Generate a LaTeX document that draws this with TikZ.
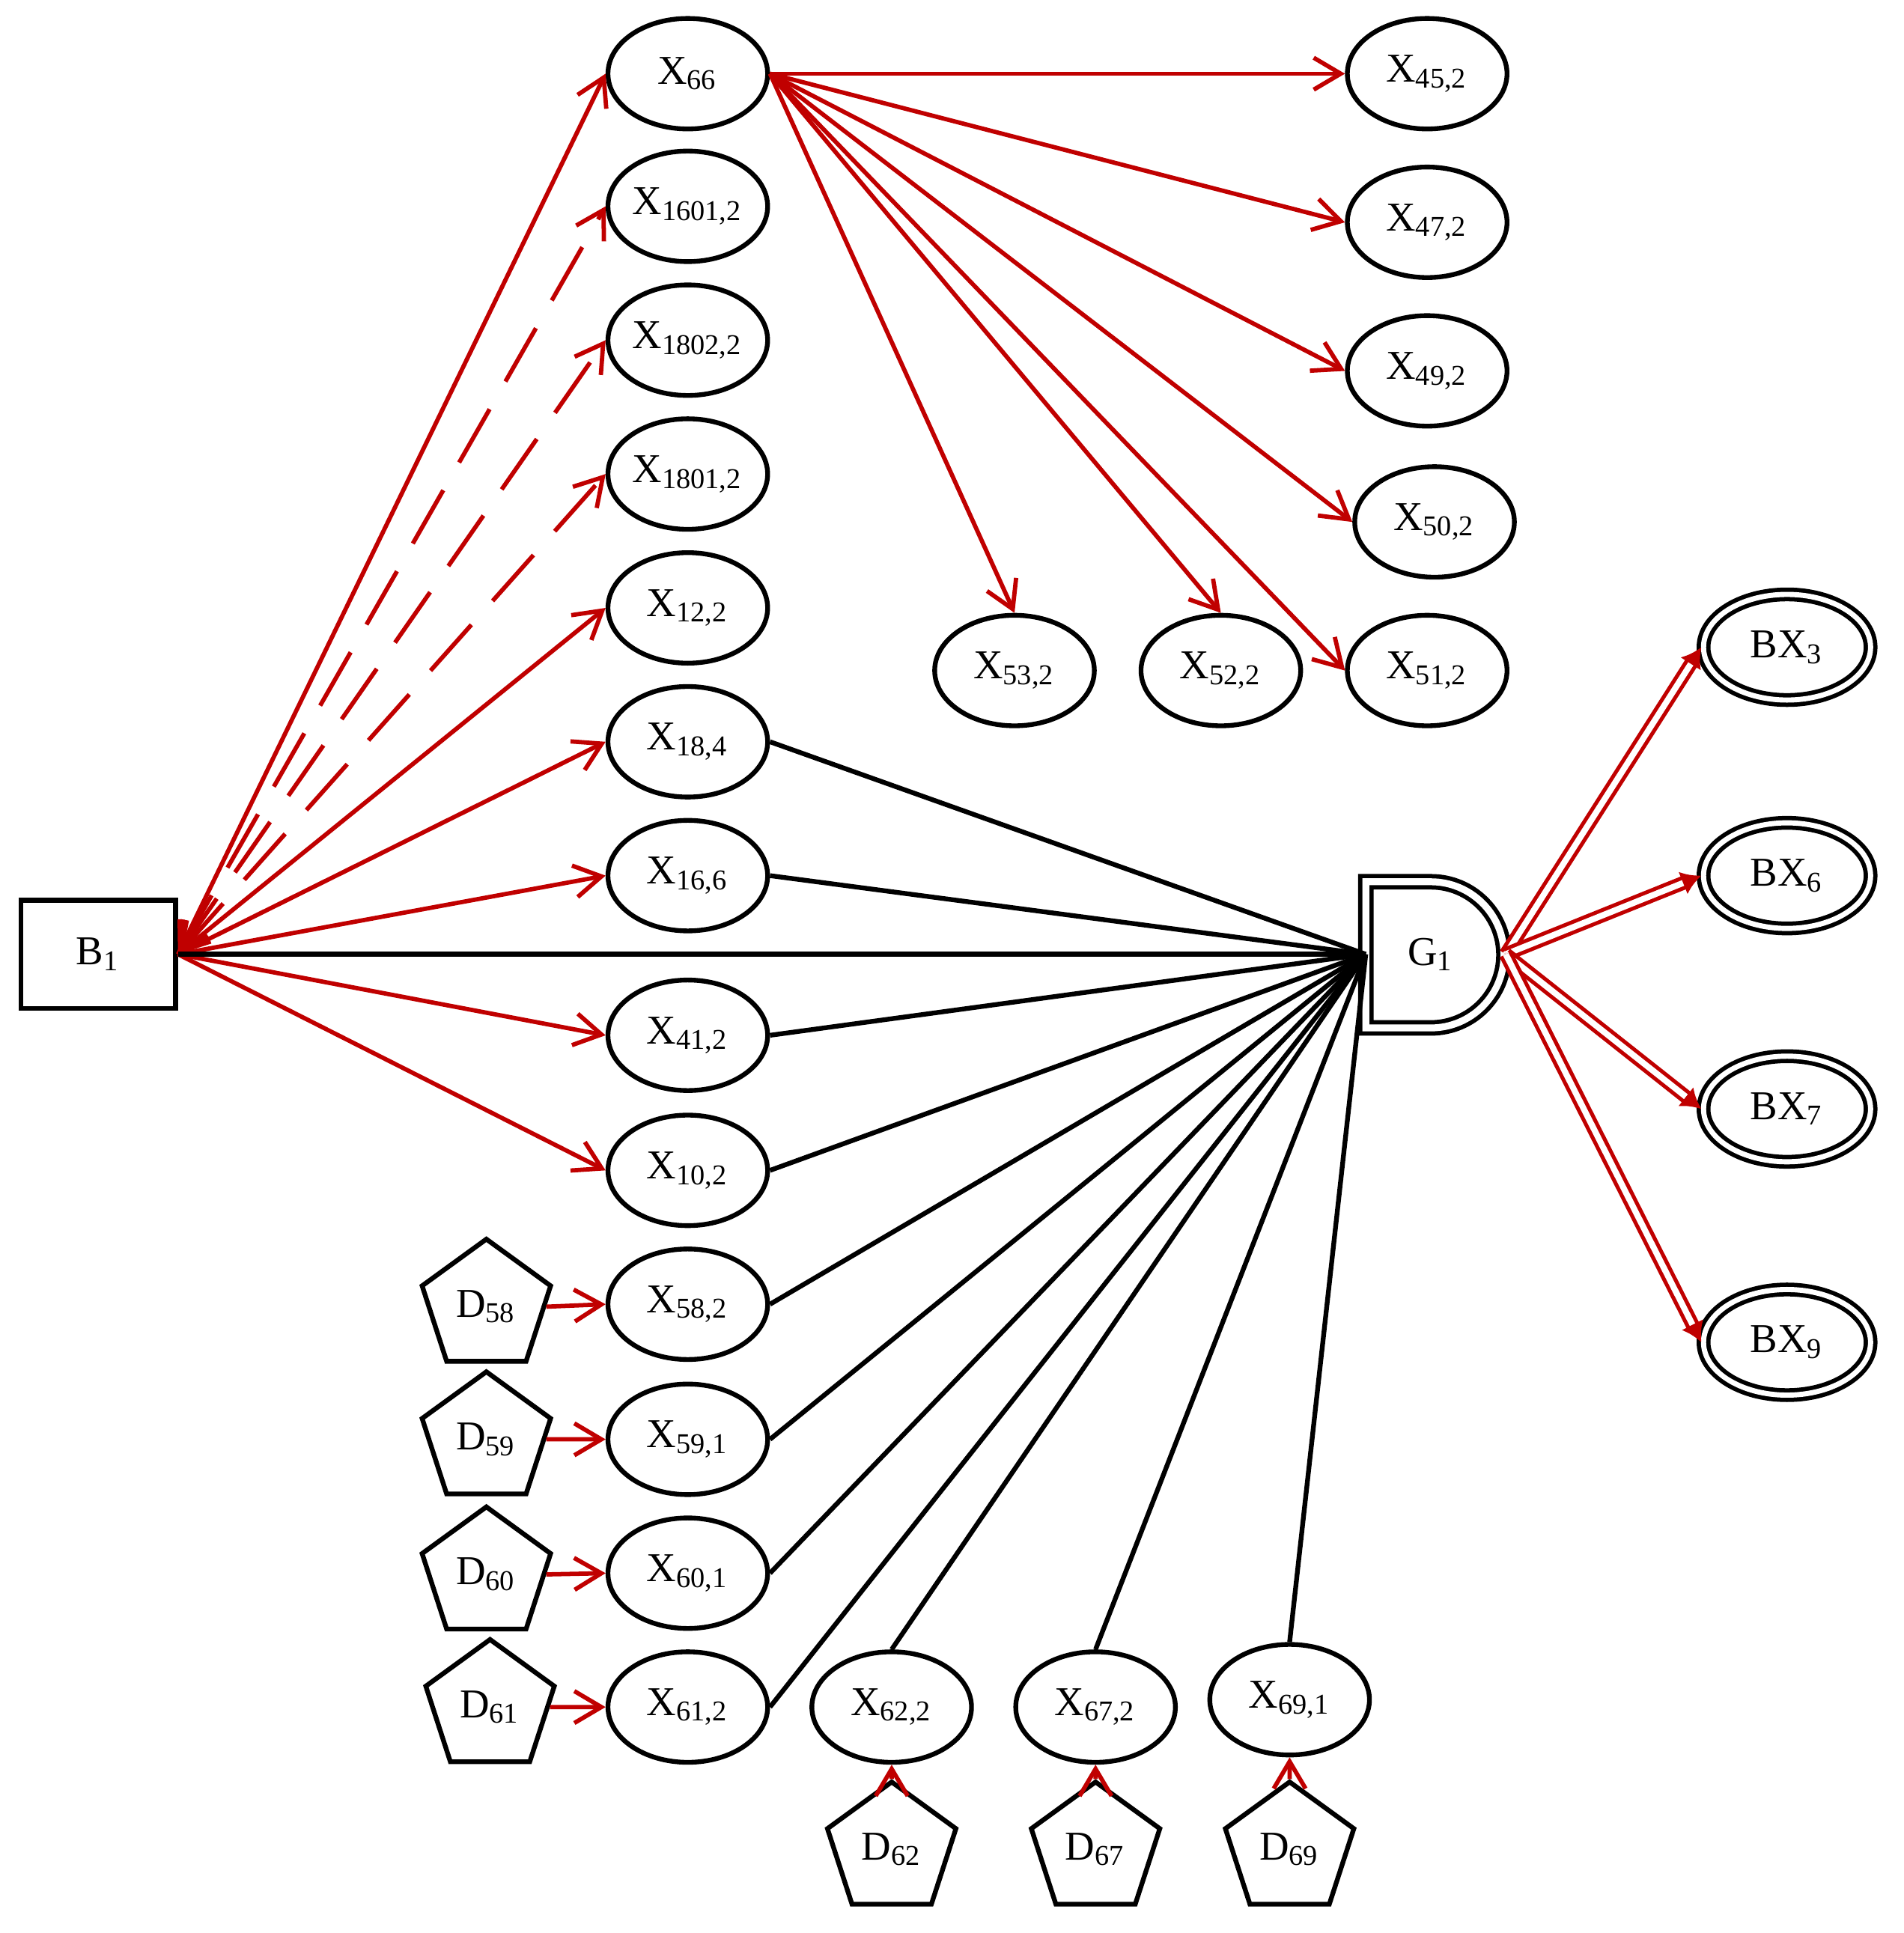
\documentclass[tikz,border=0pt]{standalone}
\usepackage{fontspec}
\setmainfont{Liberation Serif}
\usetikzlibrary{shapes.geometric,arrows.meta}
\definecolor{darkred}{RGB}{192,0,0}
\tikzset{
  xnode/.style={ellipse,draw,line width=1.1pt,minimum width=13mm,minimum height=9mm,inner sep=0pt},
  bxnode/.style={ellipse,draw,double,double distance=1.2pt,line width=1pt,minimum width=13.6mm,minimum height=8.6mm,inner sep=0pt},
  dnode/.style={regular polygon,regular polygon sides=5,draw,line width=1.1pt,minimum size=11mm,inner sep=0pt},
  redarr/.style={darkred,line width=1pt,-{Straight Barb[length=2.2mm,width=2.6mm]}},
  dasharr/.style={darkred,line width=1pt,dash pattern=on 5mm off 2.6mm,{Straight Barb[length=2.2mm,width=2.6mm]}-{Straight Barb[length=2.2mm,width=2.6mm]}},
  dblarr/.style={darkred,double=white,double distance=1.4pt,line width=0.9pt,-{Latex[length=1.6mm,width=2mm]}},
  blk/.style={black,line width=1.1pt}
}
\begin{document}
\begin{tikzpicture}[x=0.1mm,y=-0.1mm,font=\fontsize{9.5}{11}\selectfont]
\useasboundingbox (0,0) rectangle (1550,1574);

% box and gate
\node[draw,line width=1.1pt,minimum width=12.6mm,minimum height=8.8mm] (B1) at (80,777) {B\textsubscript{1}};
\draw[line width=1pt,double,double distance=1.6pt] (1112,718) -- (1165,718) arc[start angle=90,end angle=-90,x radius=5.95mm,y radius=5.95mm] -- (1112,837) -- cycle;
\node (G1) at (1165,777) {G\textsubscript{1}};
\coordinate (G1w) at (1112,777);
\coordinate (G1e) at (1226,777);

% left column
\foreach \n/\lab/\y in {X66/66/60,X1601/{1601,2}/168,X1802/{1802,2}/277,X1801/{1801,2}/386,X12/{12,2}/495,X18/{18,4}/604,X16/{16,6}/713,X41/{41,2}/843,X10/{10,2}/953,X58/{58,2}/1062,X59/{59,1}/1172,X60/{60,1}/1281,X61/{61,2}/1390}
  \node[xnode] (\n) at (560,\y) {X\textsubscript{\lab}};

% right group
\foreach \n/\lab/\x/\y in {X45/{45,2}/1162/60,X47/{47,2}/1162/181,X49/{49,2}/1162/302,X50/{50,2}/1168/425,X51/{51,2}/1162/546,X52/{52,2}/994/546,X53/{53,2}/826/546,X62/{62,2}/726/1390,X67/{67,2}/892/1390,X69/{69,1}/1050/1384}
  \node[xnode] (\n) at (\x,\y) {X\textsubscript{\lab}};

% sources
\foreach \n/\x/\y in {58/396/1064,59/396/1172,60/396/1282,61/399/1390,62/726/1506,67/892/1506,69/1050/1506}
  \node[dnode] (D\n) at (\x,\y) {D\textsubscript{\n}};

% outputs
\foreach \n/\y in {3/527,6/713,7/903,9/1093}
  \node[bxnode] (BX\n) at (1455,\y) {BX\textsubscript{\n}};

% B1 edges
\foreach \t in {X66,X12,X18,X16,X41,X10}
  \draw[redarr] (B1.east) -- (\t.west);
\foreach \t in {X1601,X1802,X1801}
  \draw[dasharr] (B1.east) -- (\t.west);
\draw[blk] (B1.east) -- (G1w);

% X66 edges
\foreach \t in {X45,X47,X49,X50,X51}
  \draw[redarr] (X66.east) -- (\t.west);
\foreach \t in {X52,X53}
  \draw[redarr] (X66.east) -- (\t.north);

% into the gate
\foreach \s in {X18,X16,X41,X10,X58,X59,X60,X61}
  \draw[blk] (\s.east) -- (G1w);
\foreach \s in {X62,X67,X69}
  \draw[blk] (\s.north) -- (G1w);

% sources to variables
\foreach \n in {58,59,60,61}
  \draw[redarr] (D\n.east) -- (X\n.west);
\foreach \n in {62,67,69}
  \draw[redarr] (D\n.north) -- (X\n.south);

% gate outputs
\foreach \n in {3,6,7,9}
  \draw[dblarr] (G1e) -- (BX\n.west);
\end{tikzpicture}
\end{document}
